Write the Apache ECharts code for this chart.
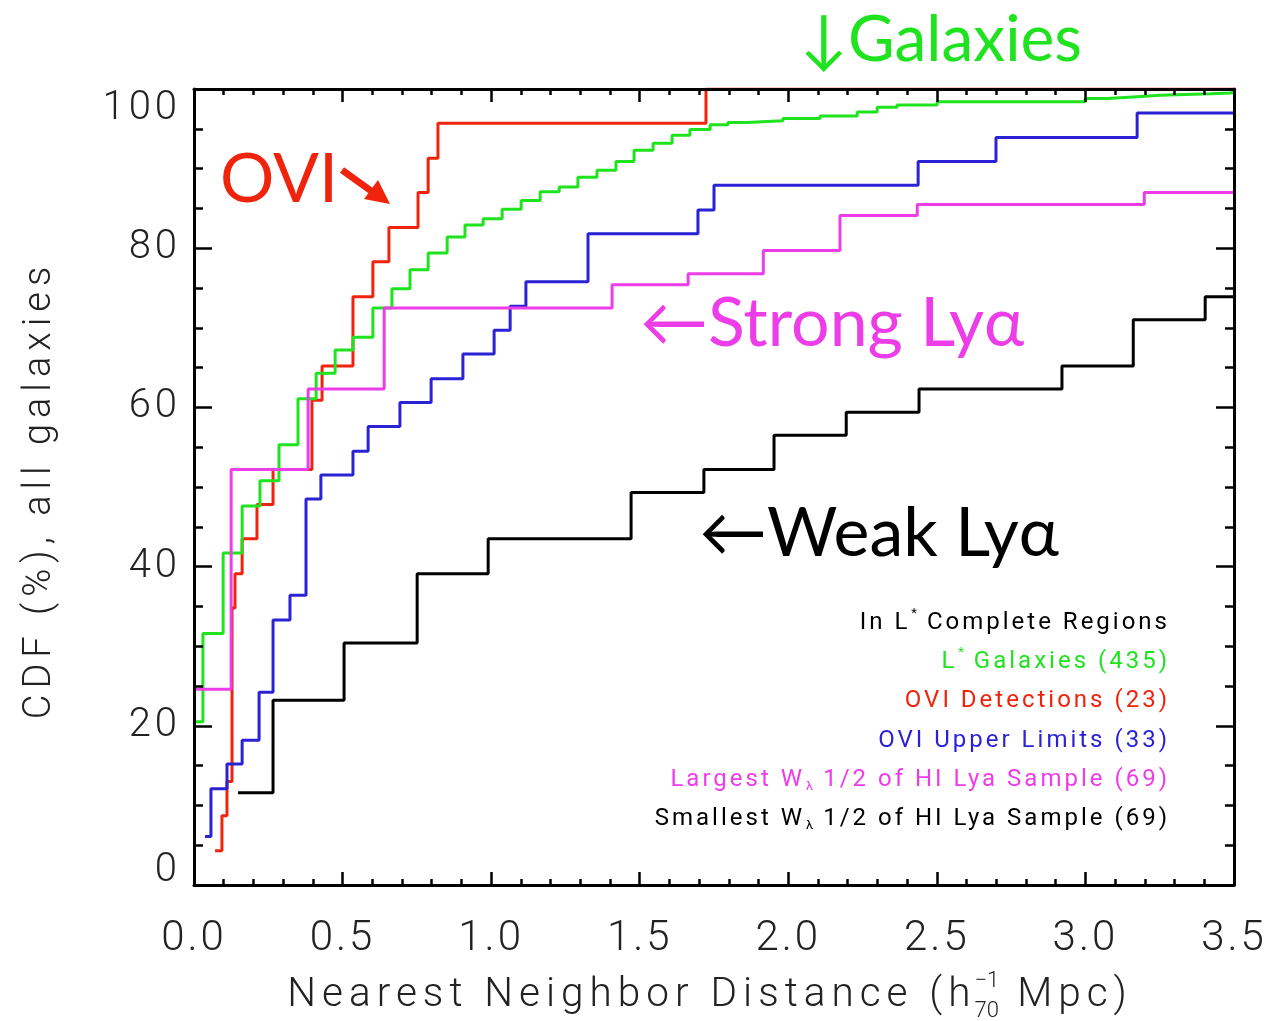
<!DOCTYPE html>
<html><head><meta charset="utf-8">
<script src="https://cdn.jsdelivr.net/npm/echarts@6/dist/echarts.min.js"></script>
<style>html,body{margin:0;padding:0;background:#fff}#c{width:1272px;height:1021px}</style>
</head><body><div id="c"></div>
<script>
// ---- tick labels ----
const xTickLabels = ['0.0', '0.5', '1.0', '1.5', '2.0', '2.5', '3.0', '3.5'];
const yTickLabels = ['0', '20', '40', '60', '80', '100'];

// ---- series: nearest neighbor distance (h70^-1 Mpc) and CDF (%) ----
const galX = [0.0, 0.030, 0.098, 0.162, 0.222, 0.286, 0.350, 0.411, 0.475, 0.535, 0.602, 0.666, 0.727, 0.788, 0.852, 0.912, 0.973, 1.037, 1.101, 1.165, 1.229, 1.292, 1.356, 1.420, 1.481, 1.545, 1.609, 1.669, 1.737, 1.797, 1.861, 1.982, 2.107, 2.232, 2.299, 2.366, 2.501, 2.999, 3.073, 3.161, 3.251, 3.420, 3.487, 3.5];
const galY = [20.5, 31.6, 41.7, 47.6, 50.8, 55.3, 61.1, 64.3, 67.2, 68.8, 72.5, 74.9, 77.3, 79.4, 81.4, 82.9, 83.7, 84.9, 86.0, 87.1, 87.7, 88.9, 89.8, 90.9, 92.3, 93.2, 94.2, 94.9, 95.5, 95.8, 96.0, 96.3, 96.6, 97.1, 97.7, 98.0, 98.4, 98.8, 99.0, 99.2, 99.4, 99.5, 99.6, 99.6];

const oviX = [0.071, 0.094, 0.111, 0.128, 0.138, 0.162, 0.212, 0.266, 0.397, 0.431, 0.535, 0.602, 0.656, 0.754, 0.788, 0.821, 1.723, 3.5];
const oviY = [4.3, 8.7, 13.0, 34.8, 39.1, 43.5, 47.8, 52.2, 60.9, 65.2, 73.9, 78.3, 82.6, 87.0, 91.3, 95.7, 100, 100];

const ulX = [0.037, 0.057, 0.111, 0.162, 0.219, 0.266, 0.323, 0.377, 0.427, 0.535, 0.586, 0.693, 0.798, 0.905, 1.010, 1.064, 1.117, 1.326, 1.696, 1.750, 2.437, 2.699, 3.174, 3.5];
const ulY = [6.1, 12.1, 15.2, 18.2, 24.2, 33.3, 36.4, 48.5, 51.5, 54.5, 57.6, 60.6, 63.6, 66.7, 69.7, 72.7, 75.8, 81.8, 84.8, 87.9, 90.9, 93.9, 97.0, 97.0];

const strongX = [0.0, 0.125, 0.384, 0.640, 1.407, 1.663, 1.916, 2.174, 2.434, 3.198, 3.5];
const strongY = [24.6, 52.2, 62.3, 72.5, 75.4, 76.8, 79.7, 84.1, 85.5, 87.0, 87.0];

const weakX = [0.148, 0.266, 0.505, 0.751, 0.990, 1.471, 1.716, 1.952, 2.195, 2.440, 2.921, 3.161, 3.403, 3.5];
const weakY = [11.6, 23.2, 30.4, 39.1, 43.5, 49.3, 52.2, 56.5, 59.4, 62.3, 65.2, 71.0, 73.9, 73.9];

const C = { green: '#1ee31e', red: '#f0230c', blue: '#2b22d6', magenta: '#ec3de8', black: '#000000' };

const AXFONT = 'Roboto, "DejaVu Sans", sans-serif';
const ANFONT = 'Lato, "Open Sans", sans-serif';

// letter spacing (px) per font size, to imitate the wide vector font of the original
const SPACING = { '42': 3, '40': 4, '38': 6, '40.5': 6, '24': 3 };
function spacingFor(font) {
  const m = /(\d+(?:\.\d+)?)px/.exec(font || '');
  if (!m) return 0;
  const k = String(+m[1]);
  return SPACING[k] || 0;
}
const _fill = CanvasRenderingContext2D.prototype.fillText;
CanvasRenderingContext2D.prototype.fillText = function (t, x, y, mw) {
  if ('letterSpacing' in this) this.letterSpacing = spacingFor(this.font) + 'px';
  return mw === undefined ? _fill.call(this, t, x, y) : _fill.call(this, t, x, y, mw);
};

const mctx = document.createElement('canvas').getContext('2d');
function tw(txt, font) {
  mctx.font = font;
  if ('letterSpacing' in mctx) mctx.letterSpacing = spacingFor(font) + 'px';
  return mctx.measureText(txt).width;
}

function pairs(xs, ys) { return xs.map((x, i) => [x, ys[i]]); }
function stepSeries(name, xs, ys, color, z) {
  return {
    name: name, type: 'line', step: 'end', showSymbol: false, symbol: 'none',
    data: pairs(xs, ys), z: z, clip: true,
    lineStyle: { color: color, width: 3 }, animation: false
  };
}

const GL = 194, GT = 89, GW = 1040, GH = 796;
const graphics = [];

// ---- x axis title with h_70^-1 ----
const XF = '300 40.5px ' + AXFONT, XSF = '300 22px ' + AXFONT, YF = '300 38px ' + AXFONT;
const xt1 = 'Nearest Neighbor Distance (h', xt2 = ' Mpc)';
const w1 = tw(xt1, XF), wsup = Math.max(tw('\u22121', XSF), tw('70', XSF)), w2 = tw(xt2, XF);
const xtLeft = GL + GW / 2 - (w1 + wsup + w2) / 2 - 4;
const xtY = 996;
graphics.push({ type: 'text', x: xtLeft, y: xtY, style: { text: xt1, fill: '#222', font: XF, align: 'left', verticalAlign: 'middle' } });
graphics.push({ type: 'text', x: xtLeft + w1 - 2, y: xtY - 15, style: { text: '\u22121', fill: '#222', font: XSF, align: 'left', verticalAlign: 'middle' } });
graphics.push({ type: 'text', x: xtLeft + w1 - 2, y: xtY + 15, style: { text: '70', fill: '#222', font: XSF, align: 'left', verticalAlign: 'middle' } });
graphics.push({ type: 'text', x: xtLeft + w1 + wsup, y: xtY, style: { text: xt2, fill: '#222', font: XF, align: 'left', verticalAlign: 'middle' } });

// ---- y axis title ----
graphics.push({ type: 'text', x: 40, y: 490, rotation: Math.PI / 2, style: { text: 'CDF (%), all galaxies', fill: '#222', font: YF, align: 'center', verticalAlign: 'middle' } });

// ---- legend block (right aligned) ----
const LF = '24px ' + AXFONT, LSUP = '13px ' + AXFONT;
const legendLines = [
  { parts: [['In L', 0], ['*', -1], [' Complete Regions', 0]], c: C.black },
  { parts: [['L', 0], ['*', -1], [' Galaxies (435)', 0]], c: C.green },
  { parts: [['OVI Detections (23)', 0]], c: C.red },
  { parts: [['OVI Upper Limits (33)', 0]], c: C.blue },
  { parts: [['Largest W', 0], ['\u03bb', 1], [' 1/2 of HI Lya Sample (69)', 0]], c: C.magenta },
  { parts: [['Smallest W', 0], ['\u03bb', 1], [' 1/2 of HI Lya Sample (69)', 0]], c: C.black }
];
const legendRight = 1170, legendY0 = 623, legendDY = 39.2;
legendLines.forEach((l, i) => {
  const y = legendY0 + i * legendDY;
  const widths = l.parts.map(p => tw(p[0], p[1] ? LSUP : LF) + (p[1] ? 2 : 0));
  let x = legendRight - widths.reduce((a, b) => a + b, 0);
  l.parts.forEach((p, j) => {
    graphics.push({
      type: 'text', x: x + (p[1] ? 1 : 0), y: y + (p[1] === -1 ? -9 : p[1] === 1 ? 7 : 0),
      style: { text: p[0], fill: l.c, font: p[1] ? LSUP : LF, align: 'left', verticalAlign: 'middle' }
    });
    x += widths[j];
  });
});

// ---- annotations ----
graphics.push({ type: 'text', left: 800, top: 8, zlevel: 1, style: { text: '\u2193Galaxies', fill: C.green, font: '64px ' + ANFONT } });
graphics.push({ type: 'text', left: 220, top: 146, zlevel: 1, style: { text: 'OVI', fill: C.red, font: '68px ' + ANFONT } });
graphics.push({ type: 'line', zlevel: 1, shape: { x1: 342, y1: 170, x2: 374, y2: 193 }, style: { stroke: C.red, lineWidth: 7 } });
graphics.push({ type: 'polygon', zlevel: 1, shape: { points: [[390, 204], [364, 199], [378, 180]] }, style: { fill: C.red } });
graphics.push({ type: 'text', left: 640, top: 290, zlevel: 1, style: { text: '\u2190Strong Ly\u03b1', fill: C.magenta, font: '68px ' + ANFONT } });
graphics.push({ type: 'text', left: 699, top: 500, zlevel: 1, style: { text: '\u2190Weak Ly\u03b1', fill: C.black, font: '68px ' + ANFONT } });

const axLine = { show: true, onZero: false, lineStyle: { color: '#000', width: 3 } };
const xTick = { show: true, inside: true, length: 13, lineStyle: { color: '#000', width: 2.5 } };
const xMinor = { show: true, splitNumber: 5, length: 6, lineStyle: { color: '#000', width: 2.5 } };
const yTick = { show: true, inside: true, length: 18, lineStyle: { color: '#000', width: 2.5 } };
const yMinor = { show: true, splitNumber: 4, length: 9, lineStyle: { color: '#000', width: 2.5 } };

const option = {
  animation: false,
  backgroundColor: '#fff',
  grid: { left: GL, top: GT, width: GW, height: GH, show: false },
  xAxis: [
    {
      type: 'value', min: 0, max: 3.5, interval: 0.5, position: 'bottom', z: 10,
      axisLine: axLine, axisTick: xTick, minorTick: xMinor, splitLine: { show: false },
      axisLabel: {
        margin: 33, fontSize: 42, fontFamily: AXFONT, fontWeight: 300, color: '#222',
        formatter: (v) => xTickLabels[Math.round(v / 0.5)]
      }
    },
    {
      type: 'value', min: 0, max: 3.5, interval: 0.5, position: 'top', z: 10,
      axisLine: axLine, axisTick: xTick, minorTick: xMinor, splitLine: { show: false },
      axisLabel: { show: false }
    }
  ],
  yAxis: [
    {
      type: 'value', min: 0, max: 100, interval: 20, position: 'left', z: 10,
      axisLine: axLine, axisTick: yTick, minorTick: yMinor, splitLine: { show: false },
      axisLabel: {
        margin: 13, fontSize: 40, fontFamily: AXFONT, fontWeight: 300, color: '#222',
        verticalAlignMinLabel: 'bottom', verticalAlignMaxLabel: 'top',
        formatter: (v) => v === 0 ? '{m|' + yTickLabels[0] + '}' : yTickLabels[Math.round(v / 20)],
        rich: { m: { fontSize: 40, fontFamily: AXFONT, fontWeight: 300, color: '#222', lineHeight: 28 } }
      }
    },
    {
      type: 'value', min: 0, max: 100, interval: 20, position: 'right', z: 10,
      axisLine: axLine, axisTick: yTick, minorTick: yMinor, splitLine: { show: false },
      axisLabel: { show: false }
    }
  ],
  series: [
    stepSeries('OVI Detections (23)', oviX, oviY, C.red, 2),
    stepSeries('OVI Upper Limits (33)', ulX, ulY, C.blue, 3),
    stepSeries('Smallest W 1/2 of HI Lya Sample (69)', weakX, weakY, C.black, 3),
    stepSeries('L* Galaxies (435)', galX, galY, C.green, 4),
    stepSeries('Largest W 1/2 of HI Lya Sample (69)', strongX, strongY, C.magenta, 5)
  ],
  graphic: { elements: graphics }
};

const chart = echarts.init(document.getElementById('c'), null, { renderer: 'canvas' });
chart.setOption(option);
</script>
</body></html>
